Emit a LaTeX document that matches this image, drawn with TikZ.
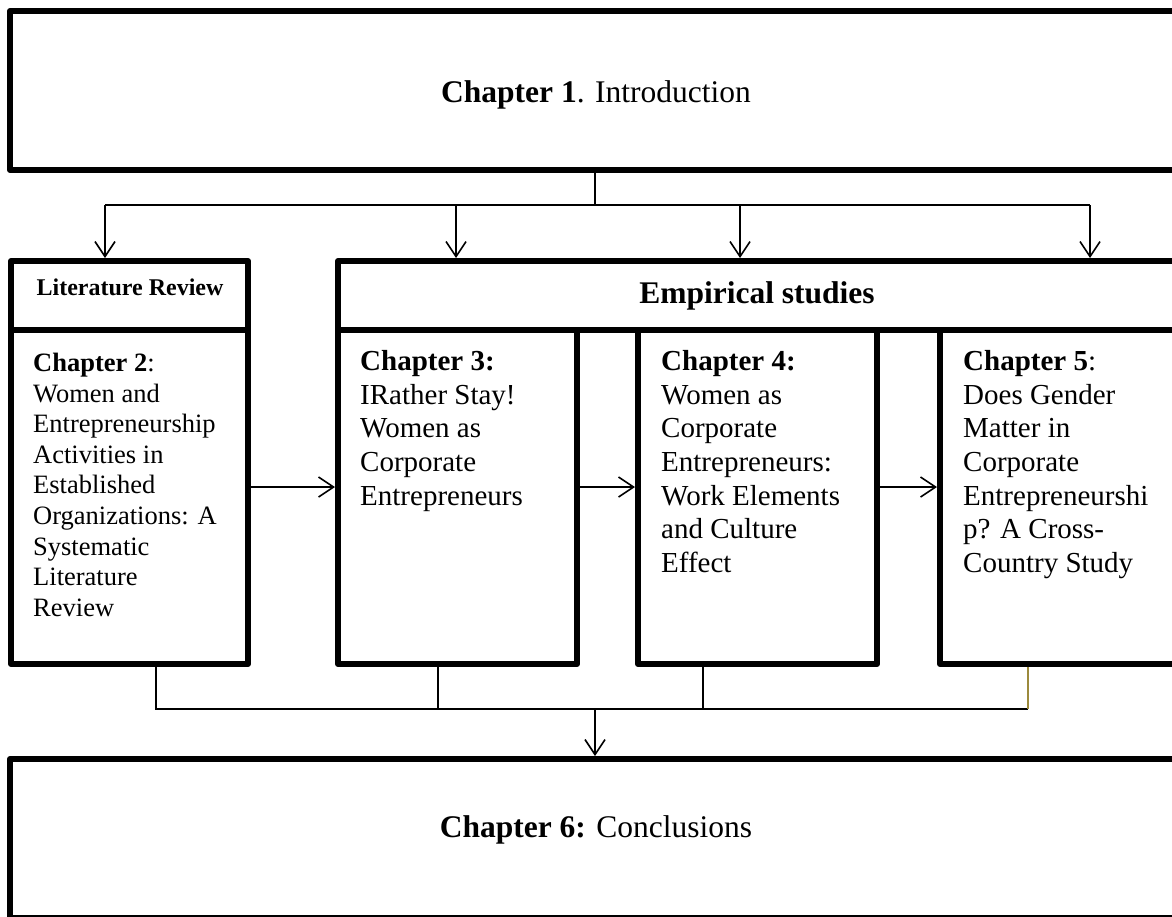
\documentclass[tikz,border=0pt]{standalone}
\usepackage{fontspec}
\setmainfont{Liberation Serif}
\usetikzlibrary{arrows.meta}
\definecolor{olivel}{HTML}{9C8A3C}
\begin{document}
\begin{tikzpicture}[x=1pt,y=-1pt,
  box/.style={draw, line width=6pt, line join=round, inner sep=0pt},
  conn/.style={line width=1.6pt},
  arr/.style={conn, -{Straight Barb[length=15pt,width=20pt,line width=1.6pt]}},
  chtext/.style={anchor=north west, inner sep=0pt, align=left, font=\fontsize{29}{33.7}\selectfont},
  chtextsmall/.style={anchor=north west, inner sep=0pt, align=left, font=\fontsize{26.5}{30.6}\selectfont},
  bigtext/.style={anchor=base, inner sep=0pt, font=\fontsize{31.5}{36}\selectfont},
  headtext/.style={anchor=base, inner sep=0pt, font=\fontsize{24}{28}\selectfont\bfseries}]
\useasboundingbox (0,0) rectangle (1172,916);
\fill[white] (0,0) rectangle (1172,916);
\clip (0,0) rectangle (1172,916);

% boxes
\node[box, minimum width=1170pt, minimum height=159pt] (intro) at (595,90.5) {};
\node[box, minimum width=237pt, minimum height=69pt] (lithead) at (129.5,295.5) {};
\node[box, minimum width=237pt, minimum height=334pt] (litbody) at (129.5,497) {};
\node[box, minimum width=842pt, minimum height=69pt] (emphead) at (759,295.5) {};
\node[box, minimum width=239pt, minimum height=334pt] (ch3) at (457.5,497) {};
\node[box, minimum width=239pt, minimum height=334pt] (ch4) at (757.5,497) {};
\node[box, minimum width=240pt, minimum height=334pt] (ch5) at (1060,497) {};
\node[box, minimum width=1170pt, minimum height=159pt] (concl) at (595,838.5) {};

% texts
\node[bigtext] (t1) at (596,102) {\textbf{Chapter 1}. Introduction};
\node[headtext] (tlit) at (130,295) {Literature Review};
\node[bigtext] (temp) at (757,303) {\textbf{Empirical studies}};
\node[bigtext] (t6) at (596,837) {\textbf{Chapter 6:} Conclusions};
\node[chtextsmall] (t2) at (33,353) {\textbf{Chapter 2}:\\Women and\\Entrepreneurship\\Activities in\\Established\\Organizations: A\\Systematic\\Literature\\Review};
\node[chtext] (t3) at (360,350) {\textbf{Chapter 3:}\\IRather Stay!\\Women as\\Corporate\\Entrepreneurs};
\node[chtext] (t4) at (661,350) {\textbf{Chapter 4:}\\Women as\\Corporate\\Entrepreneurs:\\Work Elements\\and Culture\\Effect};
\node[chtext] (t5) at (963,350) {\textbf{Chapter 5}:\\Does Gender\\Matter in\\Corporate\\Entrepreneurshi\\p? A Cross-\\Country Study};

% top distribution
\coordinate (ytop) at (0,205);
\coordinate (a2) at (105,205);
\coordinate (a3) at (456,205);
\coordinate (a4) at (740,205);
\coordinate (a5) at (1090,205);
\draw[conn] (intro.south) -- (intro.south |- ytop);
\draw[conn] (a2) -- (a5);
\draw[arr] (a2) -- (a2 |- lithead.north);
\draw[arr] (a3) -- (a3 |- emphead.north);
\draw[arr] (a4) -- (a4 |- emphead.north);
\draw[arr] (a5) -- (a5 |- emphead.north);

% horizontal flow
\coordinate (ymid) at (0,487);
\draw[arr] (litbody.east |- ymid) -- (ch3.west |- ymid);
\draw[arr] (ch3.east |- ymid) -- (ch4.west |- ymid);
\draw[arr] (ch4.east |- ymid) -- (ch5.west |- ymid);

% bottom collection
\coordinate (b2) at (156,709);
\coordinate (b3) at (438,709);
\coordinate (b4) at (703,709);
\coordinate (b5) at (1028,709);
\draw[conn] (b2 |- litbody.south) -- (b2) -- (b5);
\draw[conn] (b3 |- ch3.south) -- (b3);
\draw[conn] (b4 |- ch4.south) -- (b4);
\draw[conn, olivel] (b5 |- ch5.south) -- (b5);
\draw[arr] (concl.north |- b2) -- (concl.north);
\end{tikzpicture}
\end{document}
